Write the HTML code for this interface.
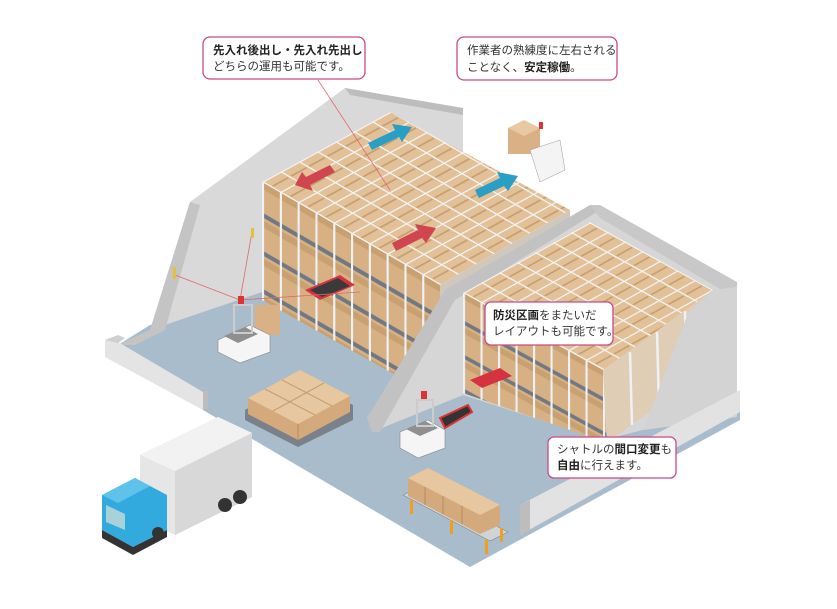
<!DOCTYPE html>
<html><head><meta charset="utf-8"><style>
html,body{margin:0;padding:0;background:#fff;width:837px;height:609px;overflow:hidden}
svg{display:block}
.t{font-family:"Liberation Sans","Noto Sans CJK JP",sans-serif;font-size:11.5px;fill:#333}
.b{font-weight:bold;fill:#222}
</style></head><body>
<svg width="837" height="609" viewBox="0 0 837 609" xmlns="http://www.w3.org/2000/svg">
<defs>
<pattern id="top1" patternUnits="userSpaceOnUse" width="1" height="1" patternTransform="matrix(18.3,-10,17.8,10.3,262,182)">
<rect width="1" height="1" fill="#e2c199"/>
<rect x="0" y="0" width="1" height="0.07" fill="#f4f4f4"/>
<rect x="0" y="0" width="0.07" height="1" fill="#f4f4f4"/>
<rect x="0.1" y="0.45" width="0.85" height="0.1" fill="#c99f70"/>
</pattern>
<pattern id="front1" patternUnits="userSpaceOnUse" width="1" height="1" patternTransform="matrix(17.8,10.3,0,38,262,182)">
<rect width="1" height="1" fill="#d7b083"/>
<rect x="0" y="0.8" width="1" height="0.12" fill="#6f7883"/>
<rect x="0" y="0" width="0.12" height="1" fill="#eef2f6"/>
<rect x="0.12" y="0" width="0.88" height="0.18" fill="#c9a070"/>
</pattern>
<pattern id="top2" patternUnits="userSpaceOnUse" width="1" height="1" patternTransform="matrix(18,-10,17.5,9.6,463,293)">
<rect width="1" height="1" fill="#e2c199"/>
<rect x="0" y="0" width="1" height="0.07" fill="#f4f4f4"/>
<rect x="0" y="0" width="0.07" height="1" fill="#f4f4f4"/>
<rect x="0.1" y="0.45" width="0.85" height="0.1" fill="#c99f70"/>
</pattern>
<pattern id="front2" patternUnits="userSpaceOnUse" width="1" height="1" patternTransform="matrix(17.5,9.6,0,34,463,293)">
<rect width="1" height="1" fill="#d7b083"/>
<rect x="0" y="0.8" width="1" height="0.12" fill="#6f7883"/>
<rect x="0" y="0" width="0.12" height="1" fill="#eef2f6"/>
<rect x="0.12" y="0" width="0.88" height="0.18" fill="#c9a070"/>
</pattern>
</defs>

<!-- floor -->
<polygon points="118,345 150,325 262,290 440,360 600,440 740,400 740,420 470,567 203,410 203,395" fill="#a9bccb"/>
<!-- left big wall -->
<polygon points="118,345 150,330 190,202 345,88 463,108 463,150 440,300 262,300 262,292 150,330" fill="#d9d9d9"/>
<polygon points="118,345 150,330 190,202 200,205 165,330 135,345" fill="#c4c4c4"/>
<polygon points="345,88 463,108 463,115 350,95" fill="#bdbdbd"/>
<!-- low left wall -->
<polygon points="105,340 118,342 203,392 203,410 105,357" fill="#e4e4e4"/>
<polygon points="105,340 118,335 125,338 118,343" fill="#cfcfcf"/>
<polygon points="203,392 208,390 208,408 203,410" fill="#bdbdbd"/>

<!-- rack 1 -->
<polygon points="262,182 440,285 440,400 262,300" fill="url(#front1)"/>
<polygon points="262,182 390,112 570,210 440,285" fill="url(#top1)"/>
<polygon points="440,285 570,210 570,230 440,305" fill="#d1c8bd"/>
<polygon points="305,290 340,275 355,285 320,300" fill="#d6323f"/>
<polygon points="310,290 338,278 350,286 322,297" fill="#3a3a3a"/>

<!-- arrows -->
<polygon points="368,143 395,130 392,124 412,127 402,142 399,137 372,150" fill="#2a9fc3"/>
<polygon points="335,172 310,185 313,191 295,185 302,172 306,177 330,165" fill="#cf4651"/>
<polygon points="475,190 500,178 497,172 518,176 508,191 504,186 479,198" fill="#2a9fc3"/>
<polygon points="392,243 418,230 415,224 436,228 426,243 422,238 396,251" fill="#cf4651"/>

<!-- partition + right wall -->
<polygon points="367,417 460,290 590,205 600,210 737,287 737,417 643,430 603,440 463,395 372,432" fill="#d6d6d6"/>
<polygon points="367,417 372,410 445,290 590,205 600,210 455,300 380,432 372,432" fill="#c2c2c2"/>
<polygon points="590,205 600,205 737,282 737,292 725,292 600,218" fill="#c8c8c8"/>
<!-- rack 2 -->
<polygon points="463,293 603,370 607,443 463,393" fill="url(#front2)"/>
<polygon points="603,370 713,290 713,365 607,443" fill="#dfcdb6"/>
<g stroke="#eef2f6" stroke-width="2.5"><line x1="630" y1="352" x2="632" y2="425"/><line x1="657" y1="332" x2="659" y2="405"/><line x1="685" y1="311" x2="687" y2="385"/></g>
<polygon points="463,293 590,222 713,290 603,370" fill="url(#top2)"/>
<polygon points="470,380 500,368 512,376 482,388" fill="#d6323f"/>
<!-- right wall slant -->
<polygon points="713,290 737,287 737,417 643,430 688,313" fill="#d3d3d3"/>
<!-- right low wall -->
<polygon points="520,505 740,390 740,412 520,535" fill="#e2e2e2"/>
<polygon points="520,505 530,500 530,530 520,535" fill="#bdbdbd"/>

<!-- top forklift -->
<rect x="508" y="128" width="32" height="26" fill="#d9b185"/>
<polygon points="508,128 524,120 540,128 524,136" fill="#e8c9a3"/>
<polygon points="530,150 560,140 565,170 540,182" fill="#f4f4f4" stroke="#999" stroke-width="0.5"/>
<rect x="539" y="122" width="4" height="7" fill="#d33"/>

<!-- sensor lines -->
<g stroke="#e06a6a" stroke-width="0.8" fill="none">
<line x1="175" y1="275" x2="240" y2="300"/><line x1="252" y1="232" x2="240" y2="300"/><line x1="240" y1="300" x2="360" y2="292"/>
<line x1="318" y1="80" x2="390" y2="190"/>
</g>
<rect x="173" y="267" width="3" height="12" fill="#e3c13c"/>
<rect x="251" y="228" width="3" height="10" fill="#e3c13c"/>

<!-- forklift 1 -->
<rect x="255" y="305" width="25" height="30" fill="#d9b185"/>
<polygon points="218,340 250,325 270,335 270,352 240,363 218,352" fill="#f5f5f5" stroke="#888" stroke-width="0.6"/>
<polygon points="224,336 245,327 258,334 238,343" fill="#8f8f8f"/>
<rect x="234" y="305" width="18" height="28" fill="none" stroke="#ccc" stroke-width="2"/>
<rect x="238" y="296" width="6" height="8" fill="#d33"/>
<!-- forklift 2 -->
<polygon points="440,418 468,405 472,412 445,428" fill="#333" stroke="#d33" stroke-width="2"/>
<polygon points="400,432 428,420 445,430 445,448 418,458 400,448" fill="#f5f5f5" stroke="#888" stroke-width="0.6"/>
<polygon points="406,429 425,421 438,428 420,436" fill="#8f8f8f"/>
<rect x="417" y="400" width="16" height="26" fill="none" stroke="#ccc" stroke-width="2"/>
<rect x="421" y="391" width="6" height="8" fill="#d33"/>

<!-- pallet boxes -->
<g>
<polygon points="245,410 300,378 353,405 353,420 298,447 245,420" fill="#7a818a"/>
<polygon points="248,398 300,370 350,396 350,412 298,440 248,414" fill="#d4aa7d"/>
<polygon points="248,398 300,370 350,396 298,424" fill="#e6c7a0"/>
<line x1="298" y1="424" x2="298" y2="440" stroke="#b48a60"/>
<line x1="265" y1="389" x2="315" y2="415" stroke="#c49d73"/>
<line x1="282" y1="380" x2="332" y2="406" stroke="#c49d73"/>
<line x1="273" y1="411" x2="324" y2="383" stroke="#c49d73"/>
</g>

<!-- conveyor -->
<polygon points="403,495 420,487 508,532 490,541" fill="#cfd4d8" stroke="#888" stroke-width="0.6"/>
<g fill="#f0a020"><rect x="410" y="500" width="3" height="14"/><rect x="450" y="520" width="3" height="14"/><rect x="485" y="540" width="3" height="14"/><rect x="500" y="528" width="3" height="14"/></g>
<g>
<polygon points="408,478 428,468 500,505 500,525 480,534 408,496" fill="#d4aa7d"/>
<polygon points="408,478 428,468 500,505 480,515" fill="#e6c7a0"/>
<line x1="425" y1="487" x2="425" y2="505" stroke="#b48a60"/><line x1="443" y1="496" x2="443" y2="514" stroke="#b48a60"/><line x1="462" y1="506" x2="462" y2="524" stroke="#b48a60"/>
</g>

<!-- truck -->
<polygon points="140,455 218,417 252,433 252,497 175,535 140,518" fill="#e6e6e6"/>
<polygon points="140,455 218,417 252,433 175,471" fill="#f2f2f2"/>
<polygon points="175,471 252,433 252,497 175,535" fill="#d8d8d8"/>
<circle cx="225" cy="505" r="7" fill="#333"/><circle cx="240" cy="497" r="7" fill="#333"/>
<polygon points="102,495 135,478 167,495 167,530 133,547 102,530" fill="#33aadd"/>
<polygon points="102,495 135,478 150,486 118,503" fill="#5ec2ea"/>
<polygon points="106,505 125,514 125,530 106,522" fill="#a7d2da"/>
<polygon points="102,530 133,547 167,530 167,537 133,555 102,538" fill="#333"/>
<circle cx="158" cy="533" r="6" fill="#333"/>

<!-- callouts -->
<g fill="#fff" stroke="#c84a86" stroke-width="1.3">
<rect x="203" y="37" width="162" height="42" rx="7"/>
<rect x="457" y="37" width="160" height="43" rx="7"/>
<rect x="485" y="302" width="128" height="43" rx="6"/>
<rect x="548" y="437" width="128" height="41" rx="6"/>
</g>
<text class="t b" x="213" y="54">先入れ後出し・先入れ先出し</text>
<text class="t" x="213" y="70">どちらの運用も可能です。</text>
<text class="t" x="467" y="54">作業者の熟練度に左右される</text>
<text class="t" x="467" y="71">ことなく、<tspan class="b">安定稼働</tspan>。</text>
<text class="t" x="493" y="319"><tspan class="b">防災区画</tspan>をまたいだ</text>
<text class="t" x="493" y="335">レイアウトも可能です。</text>
<text class="t" x="557" y="453">シャトルの<tspan class="b">間口変更</tspan>も</text>
<text class="t" x="557" y="469"><tspan class="b">自由</tspan>に行えます。</text>
</svg>
</body></html>
